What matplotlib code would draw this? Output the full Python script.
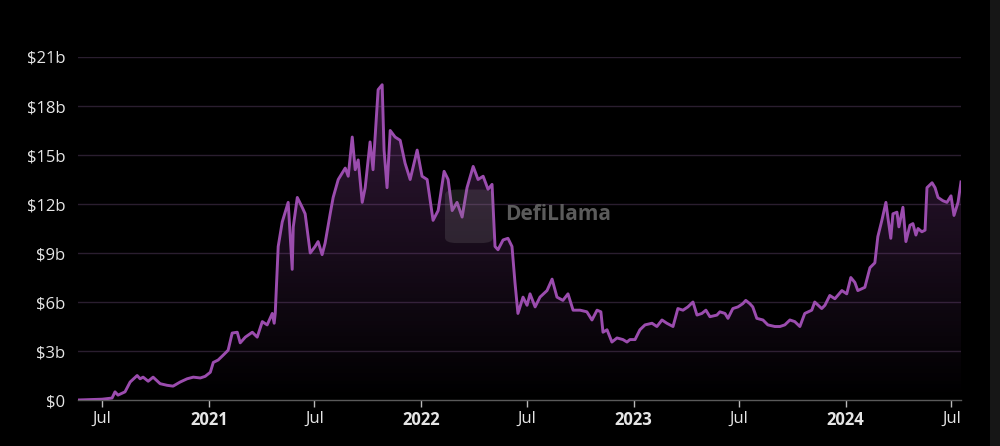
import numpy as np
import pandas as pd
import matplotlib
matplotlib.use("Agg")
import matplotlib.pyplot as plt
import matplotlib.dates as mdates
from matplotlib.patches import FancyBboxPatch, Rectangle

# TVL over time (decimal year, $ billions)
t_year = [2020.378, 2020.496, 2020.543, 2020.557, 2020.571, 2020.604, 2020.628, 2020.661,
          2020.675, 2020.689, 2020.713, 2020.736, 2020.769, 2020.802, 2020.830, 2020.863,
          2020.896, 2020.925, 2020.958, 2020.981, 2021.005, 2021.019, 2021.042, 2021.066,
          2021.089, 2021.108, 2021.132, 2021.146, 2021.170, 2021.203, 2021.226, 2021.250,
          2021.273, 2021.297, 2021.306, 2021.311, 2021.325, 2021.344, 2021.372, 2021.391,
          2021.396, 2021.415, 2021.438, 2021.452, 2021.476, 2021.499, 2021.513, 2021.532,
          2021.546, 2021.570, 2021.584, 2021.608, 2021.641, 2021.655, 2021.674, 2021.688,
          2021.702, 2021.721, 2021.735, 2021.758, 2021.772, 2021.796, 2021.815, 2021.824,
          2021.838, 2021.853, 2021.876, 2021.900, 2021.923, 2021.947, 2021.980, 2022.003,
          2022.027, 2022.055, 2022.079, 2022.107, 2022.126, 2022.145, 2022.168, 2022.192,
          2022.215, 2022.244, 2022.267, 2022.291, 2022.314, 2022.333, 2022.347, 2022.361,
          2022.385, 2022.408, 2022.427, 2022.441, 2022.455, 2022.479, 2022.498, 2022.512,
          2022.536, 2022.559, 2022.592, 2022.616, 2022.639, 2022.667, 2022.691, 2022.715,
          2022.748, 2022.780, 2022.804, 2022.828, 2022.846, 2022.856, 2022.875, 2022.898,
          2022.922, 2022.950, 2022.969, 2022.983, 2023.007, 2023.030, 2023.054, 2023.087,
          2023.110, 2023.134, 2023.157, 2023.186, 2023.209, 2023.233, 2023.256, 2023.280,
          2023.299, 2023.322, 2023.341, 2023.360, 2023.393, 2023.407, 2023.431, 2023.445,
          2023.468, 2023.492, 2023.515, 2023.529, 2023.548, 2023.562, 2023.581, 2023.610,
          2023.633, 2023.666, 2023.690, 2023.713, 2023.737, 2023.760, 2023.784, 2023.807,
          2023.840, 2023.854, 2023.887, 2023.902, 2023.925, 2023.949, 2023.982, 2024.005,
          2024.024, 2024.043, 2024.057, 2024.090, 2024.114, 2024.137, 2024.151, 2024.170,
          2024.189, 2024.198, 2024.212, 2024.222, 2024.241, 2024.250, 2024.269, 2024.283,
          2024.302, 2024.316, 2024.330, 2024.340, 2024.358, 2024.373, 2024.382, 2024.406,
          2024.420, 2024.434, 2024.457, 2024.476, 2024.495, 2024.509, 2024.528, 2024.542]
tvl_b = [0.0, 0.05, 0.12, 0.5, 0.3, 0.5, 1.1, 1.5,
         1.3, 1.4, 1.15, 1.4, 1.0, 0.9, 0.85, 1.1,
         1.3, 1.4, 1.35, 1.45, 1.7, 2.3, 2.45, 2.75,
         3.05, 4.1, 4.15, 3.5, 3.85, 4.15, 3.85, 4.8,
         4.6, 5.3, 4.7, 5.3, 9.4, 10.9, 12.1, 8.0,
         10.6, 12.4, 11.8, 11.4, 9.0, 9.4, 9.7, 8.9,
         9.6, 11.4, 12.4, 13.5, 14.2, 13.7, 16.1, 14.1,
         14.7, 12.1, 13.0, 15.8, 14.1, 19.0, 19.3, 15.3,
         13.0, 16.5, 16.1, 15.9, 14.5, 13.5, 15.3, 13.7,
         13.5, 11.0, 11.6, 14.0, 13.5, 11.6, 12.1, 11.2,
         13.0, 14.3, 13.5, 13.7, 12.9, 13.2, 9.4, 9.2,
         9.8, 9.9, 9.4, 7.2, 5.3, 6.3, 5.8, 6.5,
         5.7, 6.3, 6.7, 7.4, 6.3, 6.1, 6.5, 5.5,
         5.5, 5.4, 4.9, 5.5, 5.4, 4.15, 4.3, 3.55,
         3.8, 3.7, 3.55, 3.7, 3.7, 4.3, 4.6, 4.7,
         4.5, 4.9, 4.7, 4.5, 5.6, 5.5, 5.7, 6.0,
         5.2, 5.3, 5.5, 5.1, 5.2, 5.4, 5.3, 5.0,
         5.6, 5.7, 5.9, 6.1, 5.9, 5.7, 5.0, 4.9,
         4.6, 4.5, 4.5, 4.6, 4.9, 4.8, 4.5, 5.3,
         5.5, 6.0, 5.6, 5.8, 6.4, 6.2, 6.7, 6.5,
         7.5, 7.2, 6.7, 6.9, 8.1, 8.4, 10.0, 11.0,
         12.1, 11.2, 9.9, 11.4, 11.5, 10.6, 11.8, 9.7,
         10.7, 10.8, 10.1, 10.5, 10.3, 10.4, 13.0, 13.3,
         13.0, 12.4, 12.2, 12.1, 12.5, 11.3, 12.1, 13.35]

y_ticks = [0, 3, 6, 9, 12, 15, 18, 21]
y_labels = ["$0", "$3b", "$6b", "$9b", "$12b", "$15b", "$18b", "$21b"]
x_ticks = ["2020-07-01", "2021-01-01", "2021-07-01", "2022-01-01", "2022-07-01",
           "2023-01-01", "2023-07-01", "2024-01-01", "2024-07-01"]
x_labels = ["Jul", "2021", "Jul", "2022", "Jul", "2023", "Jul", "2024", "Jul"]


def year_to_date(y):
    yr = int(np.floor(y))
    start = pd.Timestamp(year=yr, month=1, day=1)
    end = pd.Timestamp(year=yr + 1, month=1, day=1)
    return start + (end - start) * (y - yr)


dates = [year_to_date(y) for y in t_year]
xnum = mdates.date2num(dates)
vals = np.array(tvl_b)

BG = "#000000"
LINE = "#9b4cae"
GRID = "#2a1e2f"
TXT = "#e6e6e6"

fig = plt.figure(figsize=(10, 4.46), dpi=100, facecolor=BG)
ax = fig.add_axes([0.078, 0.1031, 0.883, 0.7691])
ax.set_facecolor(BG)

xmin = mdates.date2num(year_to_date(2020.383))
xmax = mdates.date2num(year_to_date(2024.542))
ax.set_xlim(xmin, xmax)
ax.set_ylim(0, 21)

for yt in y_ticks[1:]:
    ax.axhline(yt, color=GRID, lw=1.0, zorder=0)

# gradient fill under the line
grad = np.linspace(0, 1, 256).reshape(-1, 1)
cmap = matplotlib.colors.LinearSegmentedColormap.from_list(
    "g", [(0, (0.61, 0.30, 0.68, 0.0)), (1, (0.61, 0.30, 0.68, 0.34))])
img = ax.imshow(grad, aspect="auto", cmap=cmap, origin="lower",
                extent=[xmin, xmax, 0, 21 * 0.95], zorder=1)
poly = ax.fill_between(xnum, vals, 0, color="none", lw=0)
clip = poly.get_paths()[0]
img.set_clip_path(clip, transform=ax.transData)

ax.plot(xnum, vals, color=LINE, lw=2.1, zorder=3, solid_joinstyle="round")

for s in ["top", "right", "left"]:
    ax.spines[s].set_visible(False)
ax.spines["bottom"].set_color("#5a5a5a")
ax.spines["bottom"].set_linewidth(1.0)

ax.set_yticks(y_ticks)
ax.set_yticklabels(y_labels)
ax.tick_params(axis="y", length=0, pad=9, labelsize=12, labelcolor=TXT)

ax.set_xticks(mdates.date2num(pd.to_datetime(x_ticks)))
ax.set_xticklabels(x_labels)
ax.tick_params(axis="x", length=5, width=1, color="#bbbbbb", pad=3,
               labelsize=12, labelcolor=TXT)
for lab in ax.get_xticklabels():
    if lab.get_text() != "Jul":
        lab.set_fontweight("bold")

for lab in ax.get_xticklabels() + ax.get_yticklabels():
    lab.set_fontfamily("Open Sans")

# watermark
logo = FancyBboxPatch((0.445, 0.455), 0.048, 0.12, boxstyle="round,pad=0,rounding_size=0.012",
                      transform=fig.transFigure, facecolor="#888888", alpha=0.2,
                      edgecolor="none", zorder=5)
fig.patches.append(logo)
fig.text(0.505, 0.518, "DefiLlama", color="#666666", fontsize=15, fontweight="bold",
         fontfamily="Open Sans", va="center", ha="left", alpha=0.9)

# faint strip at right edge
fig.patches.append(Rectangle((0.99, 0), 0.01, 1, transform=fig.transFigure,
                             facecolor="#161616", edgecolor="none"))

fig.savefig("out.png", dpi=100, facecolor=BG)
